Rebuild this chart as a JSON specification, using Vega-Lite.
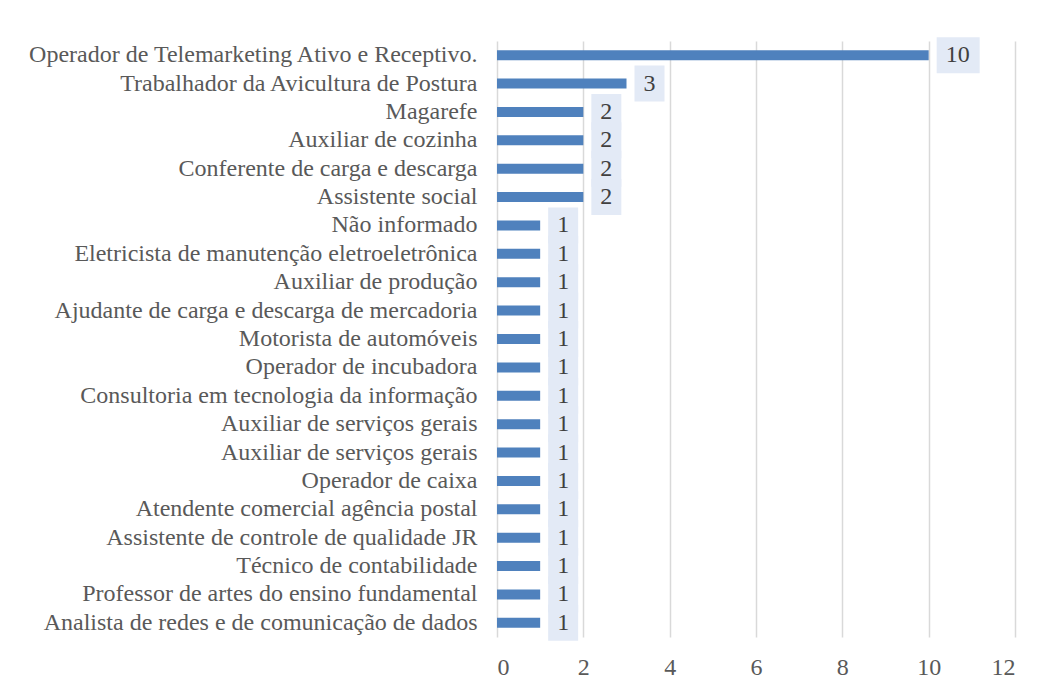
{
  "$schema": "https://vega.github.io/schema/vega-lite/v6.json",
  "autosize": "none",
  "width": 518,
  "height": 596,
  "padding": {"left": 497, "top": 41, "right": 30, "bottom": 54},
  "background": "white",
  "config": {
    "view": {"stroke": null},
    "font": "Liberation Serif"
  },
  "data": {
    "values": [
      {"cargo": "Operador de Telemarketing Ativo e Receptivo.", "n": 10},
      {"cargo": "Trabalhador da Avicultura de Postura", "n": 3},
      {"cargo": "Magarefe", "n": 2},
      {"cargo": "Auxiliar de cozinha", "n": 2},
      {"cargo": "Conferente de carga e descarga\u2005", "n": 2},
      {"cargo": "Assistente social", "n": 2},
      {"cargo": "Não informado", "n": 1},
      {"cargo": "Eletricista de manutenção eletroeletrônica", "n": 1},
      {"cargo": "Auxiliar de produção\u2005", "n": 1},
      {"cargo": "Ajudante de carga e descarga de mercadoria", "n": 1},
      {"cargo": "Motorista de automóveis", "n": 1},
      {"cargo": "Operador de incubadora", "n": 1},
      {"cargo": "Consultoria em tecnologia da informação", "n": 1},
      {"cargo": "Auxiliar de serviços gerais\u2005", "n": 1},
      {"cargo": "Auxiliar de serviços gerais", "n": 1},
      {"cargo": "Operador de caixa", "n": 1},
      {"cargo": "Atendente comercial agência postal\u2005", "n": 1},
      {"cargo": "Assistente de controle de qualidade JR", "n": 1},
      {"cargo": "Técnico de contabilidade", "n": 1},
      {"cargo": "Professor de artes do ensino fundamental", "n": 1},
      {"cargo": "Analista de redes e de comunicação de dados", "n": 1}
    ]
  },
  "encoding": {
    "y": {
      "field": "cargo",
      "type": "nominal",
      "sort": [
        "Operador de Telemarketing Ativo e Receptivo.",
        "Trabalhador da Avicultura de Postura",
        "Magarefe",
        "Auxiliar de cozinha",
        "Conferente de carga e descarga\u2005",
        "Assistente social",
        "Não informado",
        "Eletricista de manutenção eletroeletrônica",
        "Auxiliar de produção\u2005",
        "Ajudante de carga e descarga de mercadoria",
        "Motorista de automóveis",
        "Operador de incubadora",
        "Consultoria em tecnologia da informação",
        "Auxiliar de serviços gerais\u2005",
        "Auxiliar de serviços gerais",
        "Operador de caixa",
        "Atendente comercial agência postal\u2005",
        "Assistente de controle de qualidade JR",
        "Técnico de contabilidade",
        "Professor de artes do ensino fundamental",
        "Analista de redes e de comunicação de dados"
      ],
      "scale": {"paddingInner": 0, "paddingOuter": 0},
      "axis": {
        "title": null,
        "ticks": false,
        "domain": false,
        "labelPadding": 20,
        "labelFontSize": 24,
        "labelColor": "#595959",
        "labelFont": "Liberation Serif",
        "labelLimit": 600
      }
    }
  },
  "layer": [
    {
      "mark": {"type": "bar", "color": "#4f81bd", "height": 10},
      "encoding": {
        "x": {
          "field": "n",
          "type": "quantitative",
          "scale": {"domain": [0, 12], "nice": false},
          "axis": {
            "title": null,
            "values": [0, 2, 4, 6, 8, 10, 12],
            "ticks": false,
            "domain": false,
            "grid": true,
            "gridColor": "#d9d9d9",
            "gridWidth": 1.5,
            "labelPadding": 18,
            "labelFontSize": 24,
            "labelColor": "#595959",
            "labelFont": "Liberation Serif"
          }
        }
      }
    },
    {
      "transform": [{"filter": "datum.n < 10"}],
      "mark": {"type": "bar", "color": "#e3eaf6", "height": 36, "xOffset": 8, "x2Offset": 38},
      "encoding": {
        "x": {"field": "n", "type": "quantitative"},
        "x2": {"field": "n"}
      }
    },
    {
      "transform": [{"filter": "datum.n >= 10"}],
      "mark": {"type": "bar", "color": "#e3eaf6", "height": 36, "xOffset": 8, "x2Offset": 51},
      "encoding": {
        "x": {"field": "n", "type": "quantitative"},
        "x2": {"field": "n"}
      }
    },
    {
      "mark": {"type": "text", "align": "left", "baseline": "middle", "dx": 17, "fontSize": 24, "color": "#404040", "font": "Liberation Serif"},
      "encoding": {
        "x": {"field": "n", "type": "quantitative"},
        "text": {"field": "n", "type": "quantitative"}
      }
    }
  ]
}
